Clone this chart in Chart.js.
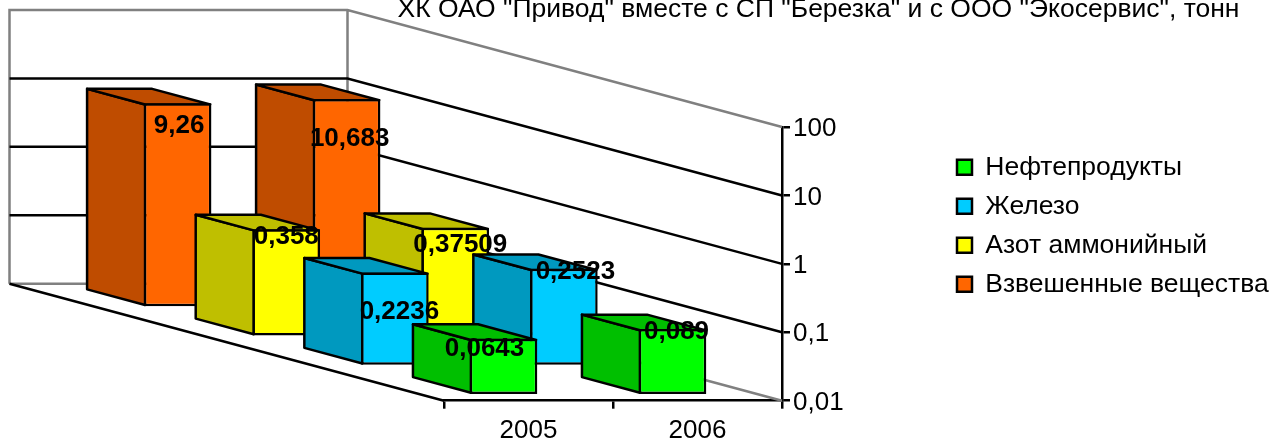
<!DOCTYPE html>
<html>
<head>
<meta charset="utf-8">
<style>
  html, body { margin: 0; padding: 0; background: #fff; overflow: hidden; }
  canvas { display: block; }
</style>
<script src="https://cdn.jsdelivr.net/npm/chart.js@4"></script>
</head>
<body>
<canvas id="chart" width="1288" height="443"></canvas>
<script>
const years = ["2005", "2006"];
const seriesNames = ["Нефтепродукты", "Железо", "Азот аммонийный", "Взвешенные вещества"];
const oilValues = [0.0643, 0.089];
const ironValues = [0.2236, 0.2523];
const ammoniaValues = [0.358, 0.37509];
const solidsValues = [9.26, 10.683];
const yTickValues = [0.01, 0.1, 1, 10, 100];
const yTickLabels = ["0,01", "0,1", "1", "10", "100"];
const chartTitle = 'ХК ОАО "Привод" вместе с СП "Березка" и с ООО "Экосервис", тонн';

const frontColors = ["#00ff00", "#00ccff", "#ffff00", "#ff6600"];
const sideColors = ["#00bf00", "#0099bf", "#bfbf00", "#bf4c00"];

// how far the data labels sit from the top centre of each front face, as in the original
const labelShift = [
  [[-19, 10], [4, 3]],
  [[4.5, 39], [11.5, 3]],
  [[0, 8], [5, 17]],
  [[1.5, 23], [3, 40]],
];

const FONT = "'Liberation Sans', Arial, sans-serif";
const FONT_SIZE = 26;
const TEXT_SIZE = 26.5; // title and legend run a little wider than the axis text
const LINE = 2.5;
const WALL_DX = -434.5;
const WALL_DY = -117;
const SLOT_DX = WALL_DX / 4;
const SLOT_DY = WALL_DY / 4;
const GAP = 0.23; // part of a slot in front of the bar
const BAR_DEPTH = 0.534; // part of a slot the bar takes

const shiftFor = (index) => ({
  x: SLOT_DX * (index + GAP),
  y: SLOT_DY * (index + GAP),
});

const walls3d = {
  id: "walls3d",
  beforeDraw(chart) {
    // Liberation sits a little high on a middle baseline, nudge the value axis labels down
    chart.scales.y.getLabelItems().forEach((item) => {
      if (!item.nudged) {
        item.textOffset += 2;
        item.nudged = true;
      }
    });
  },
  beforeDatasetsDraw(chart) {
    const { ctx, chartArea, scales } = chart;
    const { left, right, top, bottom } = chartArea;
    const backLeft = left + WALL_DX;
    const backRight = right + WALL_DX;
    ctx.save();
    ctx.lineWidth = LINE;

    // gray frame of the walls and the far floor edge
    ctx.strokeStyle = "#808080";
    ctx.beginPath();
    ctx.moveTo(backLeft, bottom + WALL_DY);
    ctx.lineTo(backLeft, top + WALL_DY);
    ctx.lineTo(backRight, top + WALL_DY);
    ctx.lineTo(right, top);
    ctx.moveTo(backRight, top + WALL_DY);
    ctx.lineTo(backRight, bottom + WALL_DY);
    ctx.lineTo(right, bottom);
    ctx.moveTo(backLeft, bottom + WALL_DY);
    ctx.lineTo(backRight, bottom + WALL_DY);
    ctx.stroke();

    // gridlines run along the back wall, then along the side wall to the axis
    ctx.strokeStyle = "#000";
    ctx.beginPath();
    yTickValues.slice(1, -1).forEach((v) => {
      const y = scales.y.getPixelForValue(v);
      ctx.moveTo(backLeft, y + WALL_DY);
      ctx.lineTo(backRight, y + WALL_DY);
      ctx.lineTo(right, y);
    });
    ctx.moveTo(backLeft, bottom + WALL_DY);
    ctx.lineTo(left, bottom);
    ctx.stroke();
    ctx.restore();
  },
  beforeDatasetDraw(chart, args) {
    const { ctx } = chart;
    const shift = shiftFor(args.index);
    const depthX = SLOT_DX * BAR_DEPTH;
    const depthY = SLOT_DY * BAR_DEPTH;
    ctx.save();
    ctx.translate(shift.x, shift.y);
    ctx.lineWidth = LINE;
    ctx.lineJoin = "round";
    ctx.strokeStyle = "#000";
    ctx.fillStyle = sideColors[args.index];
    args.meta.data.forEach((bar) => {
      const x0 = bar.x - bar.width / 2 + LINE / 2;
      const x1 = bar.x + bar.width / 2 - LINE / 2;
      const yTop = bar.y + LINE / 2;
      const yBase = bar.base - LINE / 2;
      // side face
      ctx.beginPath();
      ctx.moveTo(x0, yTop);
      ctx.lineTo(x0 + depthX, yTop + depthY);
      ctx.lineTo(x0 + depthX, yBase + depthY);
      ctx.lineTo(x0, yBase);
      ctx.closePath();
      ctx.fill();
      ctx.stroke();
      // top face
      ctx.beginPath();
      ctx.moveTo(x0, yTop);
      ctx.lineTo(x0 + depthX, yTop + depthY);
      ctx.lineTo(x1 + depthX, yTop + depthY);
      ctx.lineTo(x1, yTop);
      ctx.closePath();
      ctx.fill();
      ctx.stroke();
    });
  },
  afterDatasetDraw(chart) {
    chart.ctx.restore();
  },
  afterDatasetsDraw(chart) {
    const { ctx } = chart;
    ctx.save();
    ctx.fillStyle = "#000";
    ctx.font = "bold " + FONT_SIZE + "px " + FONT;
    ctx.textAlign = "center";
    ctx.textBaseline = "middle";
    chart.data.datasets.forEach((ds, i) => {
      const shift = shiftFor(i);
      chart.getDatasetMeta(i).data.forEach((bar, j) => {
        const text = String(ds.data[j]).replace(".", ",");
        ctx.fillText(
          text,
          bar.x + shift.x + labelShift[i][j][0],
          bar.y + shift.y + labelShift[i][j][1]
        );
      });
    });
    ctx.restore();
  },
  afterLayout(chart) {
    // legend and title sit where the original put them, outside the normal layout
    const legend = chart.legend;
    const legendPad = legend.options.labels.padding;
    legend.left = 957 - legendPad;
    legend.right = 1288;
    legend.top = 154 - legendPad;
    legend.bottom = 440;
    const title = chart.titleBlock;
    title.left = 174.5;
    title.right = 1288 + 174.5;
    title.top = -6;
    title.bottom = 26;
  },
};

new Chart(document.getElementById("chart"), {
  type: "bar",
  data: {
    labels: years,
    datasets: [oilValues, ironValues, ammoniaValues, solidsValues].map((values, i) => ({
      label: seriesNames[i],
      data: values,
      backgroundColor: frontColors[i],
      borderColor: "#000",
      borderWidth: LINE,
      borderSkipped: false,
      clip: false,
    })),
  },
  options: {
    responsive: false,
    animation: false,
    layout: { padding: { left: 444, top: 127 - 31.8, right: 0, bottom: 0 } },
    datasets: { bar: { grouped: false, barPercentage: 0.4, categoryPercentage: 1 } },
    scales: {
      x: {
        afterFit: (scale) => { scale.height = 42.3; },
        grid: { offset: true, drawOnChartArea: false, tickLength: 8, lineWidth: LINE, color: "#000" },
        border: { color: "#000", width: LINE },
        ticks: { color: "#000", font: { family: FONT, size: FONT_SIZE }, padding: 7, maxRotation: 0 },
      },
      y: {
        type: "logarithmic",
        position: "right",
        min: 0.01,
        max: 100,
        afterFit: (scale) => { scale.width = 506; },
        afterBuildTicks: (scale) => { scale.ticks = yTickValues.map((value) => ({ value })); },
        grid: { drawOnChartArea: false, tickLength: 8, lineWidth: LINE, color: "#000" },
        border: { color: "#000", width: LINE },
        ticks: {
          color: "#000",
          padding: 3,
          autoSkip: false,
          font: { family: FONT, size: FONT_SIZE },
          callback: (value) => yTickLabels[yTickValues.indexOf(value)],
        },
      },
    },
    plugins: {
      legend: {
        position: "chartArea",
        align: "start",
        labels: {
          color: "#000",
          boxWidth: 15,
          boxHeight: 15,
          padding: 12.5,
          font: { family: FONT, size: TEXT_SIZE },
        },
      },
      title: {
        display: true,
        text: chartTitle,
        color: "#000",
        padding: 0,
        font: { family: FONT, size: TEXT_SIZE, weight: "normal" },
      },
      tooltip: { enabled: false },
    },
  },
  plugins: [walls3d],
});
</script>
</body>
</html>
